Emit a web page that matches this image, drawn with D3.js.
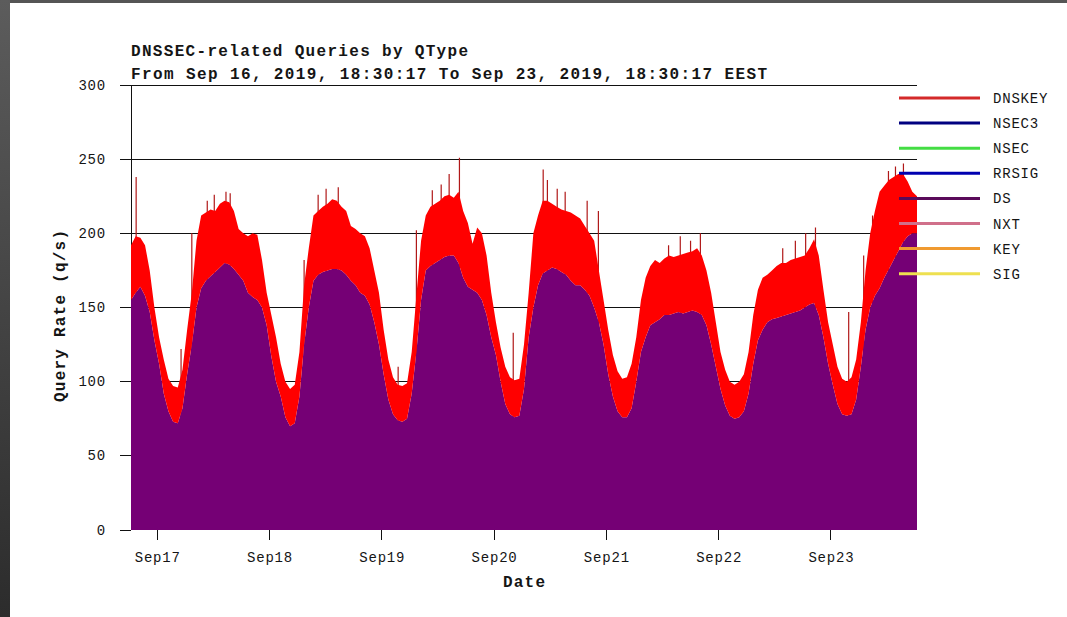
<!DOCTYPE html>
<meta charset="utf-8">
<style>
    body {
        margin: 0;
        background-color: #ffffff;
    }

    svg text {
        fill: #151515;
    }

    .tick-label {
        font-family: "Liberation Mono", monospace;
        font-size: 14px;
        letter-spacing: 0.8px;
    }

    .bold-label {
        font-family: "Liberation Mono", monospace;
        font-size: 16px;
        font-weight: bold;
    }

    .grid line,
    .axis line {
        stroke: #111111;
        stroke-width: 1px;
        shape-rendering: crispEdges;
    }
</style>

<body>
    <svg width="1067" height="617"></svg>
    <script src="https://d3js.org/d3.v7.min.js"></script>
    <script>
        var startTime = "2019-09-16T18:30:17",
            endTime = "2019-09-23T18:30:17";

        var qtypes = ["DNSKEY", "NSEC3", "NSEC", "RRSIG", "DS", "NXT", "KEY", "SIG"];
        var legendColors = ["#d42a2a", "#000080", "#44dd44", "#0000b0", "#5a0a5a", "#d0708a", "#f09a30", "#eee050"];
        var fillDNSKEY = "#ff0000",
            fillDS = "#750075";

        // hourly samples from the start time, total (top of red) and DS (top of purple), in q/s
        var totalRate = [
            192, 198, 197, 192, 175, 150, 130, 115, 102, 97, 96, 108, 135, 160, 195, 212, 214, 216, 215, 220, 222, 221, 215, 203,
            200, 198, 200, 199, 182, 160, 145, 130, 112, 100, 95, 98, 120, 165, 190, 212, 215, 218, 220, 223, 222, 218, 215, 205,
            203, 200, 198, 190, 175, 160, 135, 115, 103, 98, 97, 99, 120, 158, 195, 212, 218, 220, 222, 225, 226, 224, 228, 215,
            207, 193, 204, 200, 185, 160, 140, 123, 110, 103, 101, 102, 125, 160, 200, 212, 222, 222, 220, 218, 216, 215, 214, 212,
            210, 205, 200, 195, 175, 155, 135, 118, 107, 102, 103, 112, 130, 155, 170, 178, 182, 180, 183, 185, 184, 185, 186, 187,
            188, 190, 185, 175, 160, 140, 120, 108, 100, 98, 100, 105, 120, 145, 162, 170, 172, 175, 178, 180, 180, 182, 183, 184,
            185, 190, 196, 185, 162, 140, 125, 110, 102, 100, 103, 115, 140, 175, 200, 215, 228, 232, 236, 238, 240, 240, 235, 228, 225
        ];
        var dsRate = [
            155, 160, 164, 158, 147, 128, 112, 92, 80, 73, 72, 82, 105, 125, 150, 163, 168, 171, 174, 177, 180, 179, 176, 172,
            168, 160, 157, 155, 150, 138, 117, 100, 90, 76, 70, 72, 90, 125, 150, 168, 172, 174, 175, 176, 176, 175, 172, 168,
            165, 160, 158, 152, 140, 125, 105, 88, 78, 74, 73, 75, 92, 120, 155, 175, 178, 180, 182, 184, 185, 185, 180, 170,
            164, 162, 160, 155, 145, 130, 118, 100, 85, 78, 76, 77, 95, 130, 150, 165, 173, 175, 177, 176, 174, 172, 168, 165,
            165, 162, 158, 150, 140, 125, 105, 90, 80, 76, 76, 82, 100, 120, 130, 138, 140, 142, 145, 145, 146, 147, 146, 147,
            148, 147, 145, 138, 125, 110, 95, 84, 77, 75, 76, 80, 92, 112, 128, 135, 140, 142, 143, 144, 145, 146, 147, 148,
            150, 152, 153, 145, 130, 112, 98, 85, 78, 77, 78, 88, 110, 135, 150, 158, 163, 170, 176, 182, 188, 194, 198, 200, 200
        ];

        // short single-sample peaks poking above the red (hours after start, q/s)
        var spikeHours = [1.1, 10.7, 13.0, 16.3, 17.8, 20.3, 21.2, 37.0, 40.0, 41.7, 44.3, 57.1, 61.0, 64.4, 66.3, 68.0, 70.2, 81.7,
            88.1, 89.0, 91.1, 92.8, 97.5, 99.9, 114.9, 117.4, 119.6, 121.7, 139.3, 142.0, 144.2, 146.3, 153.4, 156.6, 158.5, 161.9, 163.4, 165.1];
        var spikeValues = [238, 122, 200, 222, 226, 228, 227, 182, 226, 230, 231, 110, 202, 229, 233, 240, 251, 133,
            243, 236, 230, 228, 222, 215, 192, 198, 195, 200, 190, 195, 200, 204, 147, 185, 212, 242, 245, 247];

        var yTicks = [0, 50, 100, 150, 200, 250, 300];

        var svg = d3.select("svg");
        var margin = { top: 85, right: 150, bottom: 87, left: 131 };
        var W = +svg.attr("width"), H = +svg.attr("height");

        var parse = d3.utcParse("%Y-%m-%dT%H:%M:%S");
        var t0 = parse(startTime), t1 = parse(endTime);
        var hour = 3600 * 1000;

        var x = d3.scaleUtc().domain([t0, t1]).range([margin.left, W - margin.right]);
        var y = d3.scaleLinear().domain([0, 300]).range([H - margin.bottom, margin.top]);

        // page frame
        var defs = svg.append("defs");
        var grad = defs.append("linearGradient").attr("id", "edge").attr("x1", 0).attr("y1", 0).attr("x2", 0).attr("y2", 1);
        grad.append("stop").attr("offset", "0%").attr("stop-color", "#5c5c5c");
        grad.append("stop").attr("offset", "100%").attr("stop-color", "#2c2c2c");
        svg.append("rect").attr("x", 0).attr("y", 0).attr("width", W).attr("height", 3).attr("fill", "#555555");
        svg.append("rect").attr("x", 0).attr("y", 0).attr("width", 10).attr("height", H).attr("fill", "url(#edge)");

        var data = totalRate.map(function(v, i) {
            return {
                time: new Date(Math.min(+t0 + i * hour, +t1)),
                DS: dsRate[i],
                DNSKEY: v - dsRate[i]
            };
        });

        // grid lines behind the data
        svg.append("g").attr("class", "grid")
            .selectAll("line")
            .data(yTicks.filter(function(d) { return d > 0; }))
            .enter().append("line")
            .attr("x1", margin.left - 11)
            .attr("x2", W - margin.right)
            .attr("y1", function(d) { return y(d); })
            .attr("y2", function(d) { return y(d); });

        svg.append("line")
            .attr("x1", margin.left).attr("x2", margin.left)
            .attr("y1", y(300)).attr("y2", y(0))
            .attr("stroke", "#111").attr("shape-rendering", "crispEdges");

        // spikes, drawn before the areas so only the part above the stack shows
        svg.append("g")
            .selectAll("line")
            .data(spikeHours)
            .enter().append("line")
            .attr("x1", function(d) { return x(new Date(+t0 + d * hour)); })
            .attr("x2", function(d) { return x(new Date(+t0 + d * hour)); })
            .attr("y1", function(d, i) { return y(spikeValues[i]); })
            .attr("y2", y(0))
            .attr("stroke", "#b01818")
            .attr("stroke-width", 1.2);

        var stack = d3.stack().keys(["DS", "DNSKEY"]);
        var layers = stack(data);
        var area = d3.area()
            .x(function(d) { return x(d.data.time); })
            .y0(function(d) { return y(d[0]); })
            .y1(function(d) { return y(d[1]); });

        svg.append("g")
            .selectAll("path")
            .data(layers)
            .enter().append("path")
            .attr("fill", function(d) { return d.key == "DS" ? fillDS : fillDNSKEY; })
            .attr("d", area);

        // y axis ticks and labels
        var yAxis = svg.append("g").attr("class", "axis");
        yAxis.selectAll("line")
            .data(yTicks)
            .enter().append("line")
            .attr("x1", margin.left - 11).attr("x2", margin.left)
            .attr("y1", function(d) { return y(d); })
            .attr("y2", function(d) { return y(d); });
        yAxis.selectAll("text")
            .data(yTicks)
            .enter().append("text")
            .attr("class", "tick-label")
            .attr("x", 106)
            .attr("y", function(d) { return y(d) + 4.5; })
            .attr("text-anchor", "end")
            .text(function(d) { return d; });

        // x axis, one tick per day
        var days = d3.utcDay.range(d3.utcDay.ceil(t0), t1);
        var fmt = d3.utcFormat("%b%d");
        var xAxis = svg.append("g").attr("class", "axis");
        xAxis.selectAll("line")
            .data(days)
            .enter().append("line")
            .attr("x1", function(d) { return Math.round(x(d)) + 0.5; })
            .attr("x2", function(d) { return Math.round(x(d)) + 0.5; })
            .attr("y1", y(0)).attr("y2", y(0) + 10);
        xAxis.selectAll("text")
            .data(days)
            .enter().append("text")
            .attr("class", "tick-label")
            .attr("x", function(d) { return x(d) + 1; })
            .attr("y", y(0) + 32)
            .attr("text-anchor", "middle")
            .text(function(d) { return fmt(d); });

        // titles
        svg.append("text").attr("class", "bold-label")
            .attr("x", margin.left).attr("y", 56)
            .attr("textLength", 337).attr("lengthAdjust", "spacing")
            .text("DNSSEC-related Queries by QType");
        svg.append("text").attr("class", "bold-label")
            .attr("x", margin.left).attr("y", 79)
            .attr("textLength", 636).attr("lengthAdjust", "spacing")
            .text("From Sep 16, 2019, 18:30:17 To Sep 23, 2019, 18:30:17 EEST");
        svg.append("text").attr("class", "bold-label")
            .attr("x", (margin.left + W - margin.right) / 2).attr("y", 587)
            .attr("text-anchor", "middle")
            .attr("textLength", 42).attr("lengthAdjust", "spacing")
            .text("Date");
        svg.append("text").attr("class", "bold-label")
            .attr("transform", "translate(65,316) rotate(-90)")
            .attr("text-anchor", "middle")
            .attr("textLength", 172).attr("lengthAdjust", "spacing")
            .text("Query Rate (q/s)");

        // legend
        var legend = svg.append("g")
            .selectAll("g")
            .data(qtypes)
            .enter().append("g")
            .attr("transform", function(d, i) { return "translate(0," + (98 + i * 25.1) + ")"; });
        legend.append("line")
            .attr("x1", 899).attr("x2", 980)
            .attr("y1", 0).attr("y2", 0)
            .attr("stroke", function(d, i) { return legendColors[i]; })
            .attr("stroke-width", 3);
        legend.append("text")
            .attr("class", "tick-label")
            .attr("x", 993)
            .attr("y", 5)
            .text(function(d) { return d; });
    </script>
</body>
